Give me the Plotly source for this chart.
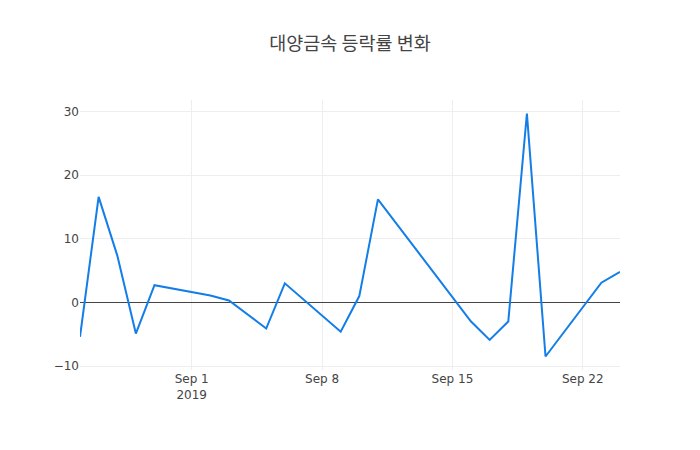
import plotly.graph_objs as go

# daily change rate (%) of 대양금속, trading days only
dates = ['2019-08-26', '2019-08-27', '2019-08-28', '2019-08-29', '2019-08-30',
         '2019-09-02', '2019-09-03', '2019-09-04', '2019-09-05', '2019-09-06',
         '2019-09-09', '2019-09-10', '2019-09-11',
         '2019-09-16', '2019-09-17', '2019-09-18', '2019-09-19', '2019-09-20',
         '2019-09-23', '2019-09-24']
change_rate = [-5.4, 16.6, 7.4, -4.9, 2.7,
               1.1, 0.3, -1.9, -4.1, 3.0,
               -4.6, 1.0, 16.2,
               -3.0, -5.9, -3.0, 29.7, -8.5,
               3.1, 4.8]

title_text = '대양금속 등락률 변화'

fig = go.Figure(data=[go.Scatter(x=dates, y=change_rate, mode='lines',
                                 line=dict(color='#137DE8', width=2))])

# page body adds an 8px offset, so margins are shifted to keep the plot in place
fig.update_layout(template='none',
                  title=dict(text=title_text, x=0.5, xref='paper',
                             y=0.922, yref='container', yanchor='middle',
                             font=dict(family='Noto Sans CJK KR, sans-serif',
                                       size=18.5, color='#444')),
                  width=700, height=450,
                  margin=dict(l=72, r=88, t=92, b=88),
                  font=dict(family='DejaVu Sans, Noto Sans CJK KR, sans-serif',
                            size=12, color='#444'),
                  paper_bgcolor='white', plot_bgcolor='white')
fig.update_xaxes(type='date', gridcolor='#eee', zeroline=False, showline=False,
                 ticks='', dtick=7 * 24 * 3600 * 1000, tick0='2019-09-01')
fig.update_yaxes(gridcolor='#eee', zeroline=True, zerolinecolor='#444',
                 zerolinewidth=1, showline=False, ticks='', dtick=10)

fig.write_html("out.html")
